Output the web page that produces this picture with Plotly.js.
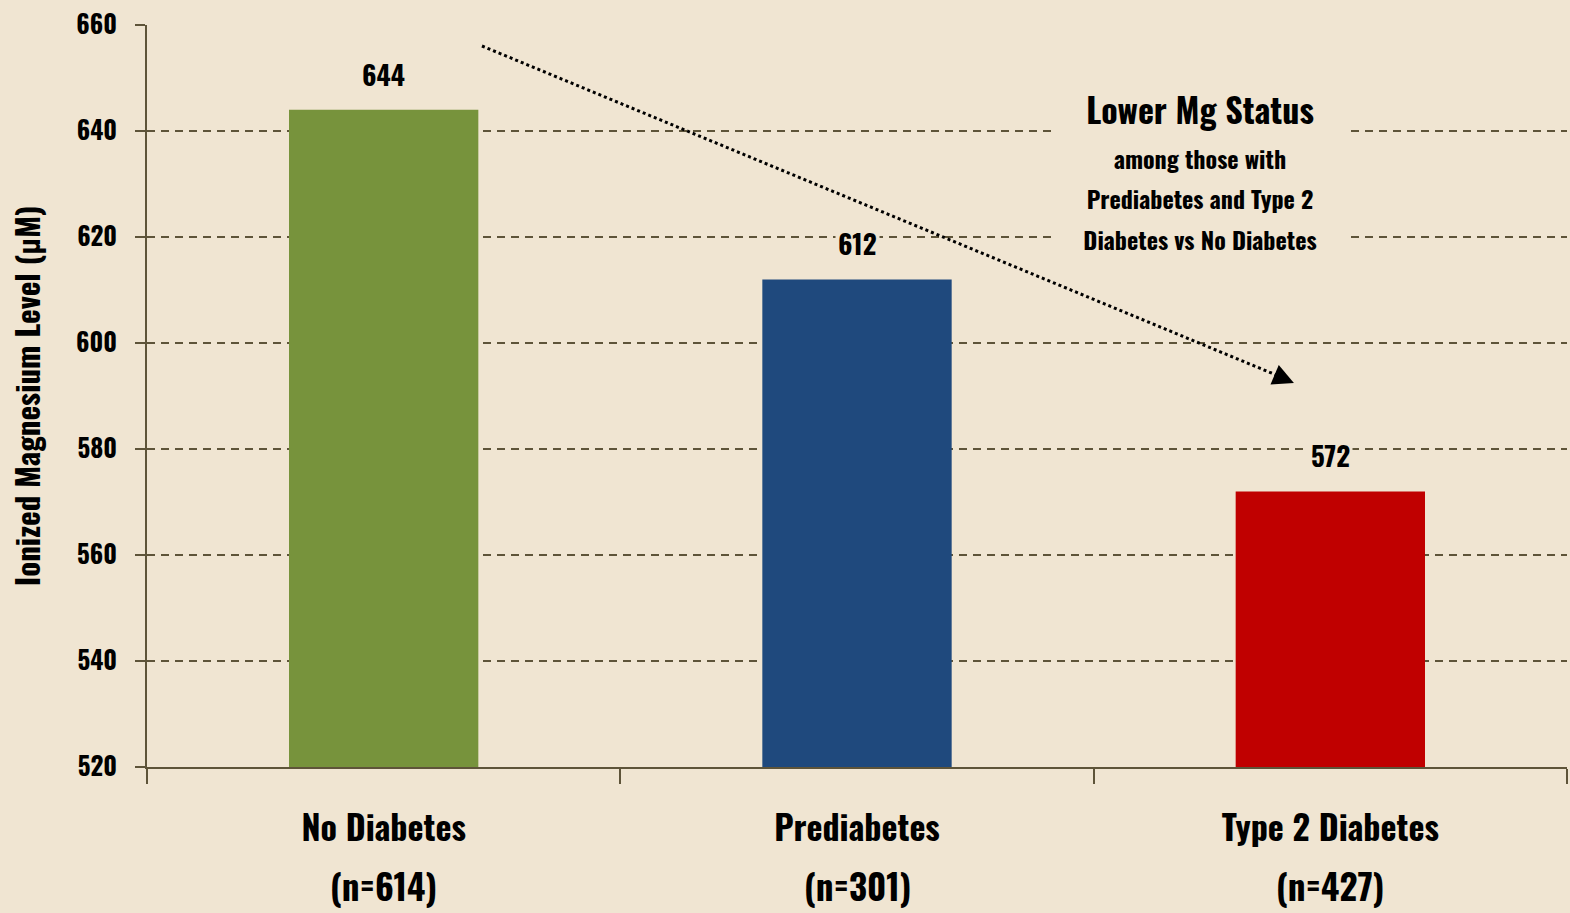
<!DOCTYPE html>
<html>
<head>
<meta charset="utf-8">
<script src="https://cdn.plot.ly/plotly-3.0.1.min.js"></script>
<style>html,body{margin:0;padding:0;background:#F0E5D2;}#chart{width:1570px;height:913px;}</style>
</head>
<body>
<div id="chart"></div>
<script>
const categories = ['No Diabetes', 'Prediabetes', 'Type 2 Diabetes'];
const sampleSizes = ['(n=614)', '(n=301)', '(n=427)'];
const values = [644, 612, 572];
const barColors = ['#77933C', '#1F497D', '#C00000'];
const yTicks = [520, 540, 560, 580, 600, 620, 640, 660];
const noteTitle = 'Lower Mg Status';
const noteLines = ['among those with', 'Prediabetes and Type 2', 'Diabetes vs No Diabetes'];

const FONT = 'Oswald, "League Gothic", "Roboto Condensed", "Open Sans Condensed", sans-serif';
const BG = '#F0E5D2';
const AX = '#5E5439';

const trace = {
  type: 'bar',
  x: categories,
  y: values,
  width: 0.4,
  marker: {color: barColors, line: {width: 0}},
  hoverinfo: 'skip'
};

const valueLabels = categories.map((c, i) => ({
  x: c, y: values[i], xref: 'x', yref: 'y',
  text: '<b>' + values[i] + '</b>',
  showarrow: false, yanchor: 'bottom', yshift: 13,
  bgcolor: BG, borderpad: 2,
  font: {family: FONT, size: 27, color: '#000'}
}));

const sizeLabels = categories.map((c, i) => ({
  x: c, xref: 'x', y: 0, yref: 'paper',
  text: '<b>' + sampleSizes[i] + '</b>',
  showarrow: false, yanchor: 'middle', yshift: -118,
  font: {family: FONT, size: 35, color: '#000'}
}));

const noteX = 0.7415;
const noteCentersPx = [158, 198, 239];
const noteAnns = [{
  xref: 'paper', yref: 'paper', x: noteX, y: (767 - 108) / 742,
  xanchor: 'center', yanchor: 'middle', showarrow: false,
  text: '<b>' + noteTitle + '</b>', width: 282, bgcolor: BG, borderpad: 5,
  font: {family: FONT, size: 34, color: '#000'}
}].concat(noteLines.map((t, i) => ({
  xref: 'paper', yref: 'paper', x: noteX, y: (767 - noteCentersPx[i]) / 742,
  xanchor: 'center', yanchor: 'middle', showarrow: false,
  text: '<b>' + t + '</b>', width: 282, bgcolor: BG, borderpad: 4,
  font: {family: FONT, size: 24, color: '#000'}
})));

const layout = {
  width: 1570, height: 913,
  paper_bgcolor: BG, plot_bgcolor: BG,
  margin: {l: 147, r: 3, t: 25, b: 146},
  showlegend: false,
  bargap: 0.6,
  font: {family: FONT, color: '#000'},
  xaxis: {
    type: 'category',
    tickmode: 'array',
    tickvals: categories,
    ticktext: categories.map(c => '<b>' + c + '</b>'),
    tickson: 'boundaries',
    ticks: 'outside', ticklen: 15, tickwidth: 2, tickcolor: AX,
    showline: true, linecolor: AX, linewidth: 2,
    showgrid: false,
    tickfont: {family: FONT, size: 34, color: '#000'},
    ticklabelstandoff: 31
  },
  yaxis: {
    range: [520, 660],
    tickmode: 'array', tickvals: yTicks,
    ticktext: yTicks.map(v => '<b>' + v + '</b>'),
    ticks: 'outside', ticklen: 10, tickwidth: 2, tickcolor: AX,
    showline: true, linecolor: AX, linewidth: 2,
    showgrid: true, gridcolor: AX, gridwidth: 2, griddash: '8px,6px',
    zeroline: false,
    tickfont: {family: FONT, size: 25, color: '#000'},
    ticklabelstandoff: 13,
    title: {text: '<b>Ionized Magnesium Level (μM)</b>', font: {family: FONT, size: 31, color: '#000'}, standoff: 26}
  },
  shapes: [{
    type: 'line', xref: 'paper', yref: 'paper',
    x0: 0.2359, y0: 0.9717, x1: 0.800, y1: 0.5245,
    line: {color: '#000', width: 3, dash: 'dot'}
  }],
  annotations: valueLabels.concat(sizeLabels, noteAnns, [{
    xref: 'paper', yref: 'paper', x: 0.8077, y: 0.5175,
    ax: -14, ay: -6, showarrow: true,
    arrowhead: 2, arrowsize: 1.4, arrowwidth: 3, arrowcolor: '#000', text: ''
  }])
};

Plotly.newPlot('chart', [trace], layout, {displayModeBar: false, staticPlot: true});
</script>
</body>
</html>
